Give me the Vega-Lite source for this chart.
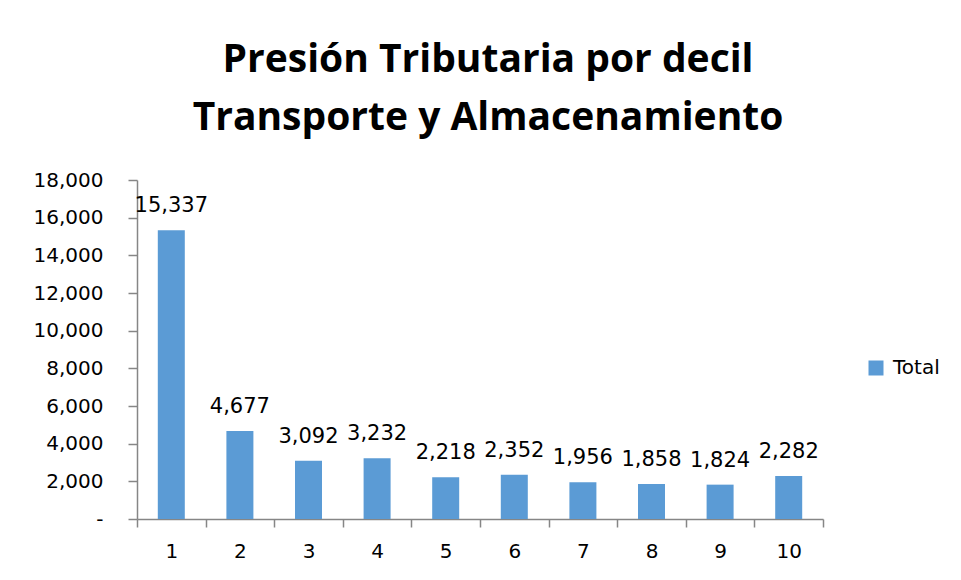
{
  "$schema": "https://vega.github.io/schema/vega-lite/v6.json",
  "width": 686,
  "height": 339,
  "autosize": {"type": "none"},
  "padding": {"left": 137, "top": 180, "right": 138, "bottom": 61},
  "background": "white",
  "title": {
    "text": ["Presión Tributaria por decil", "Transporte y Almacenamiento"],
    "font": "Open Sans",
    "fontSize": 39,
    "fontWeight": "bold",
    "color": "#000000",
    "lineHeight": 58,
    "anchor": "middle",
    "offset": 32,
    "dx": 8
  },
  "config": {
    "view": {"stroke": null},
    "axis": {
      "labelFont": "DejaVu Sans",
      "labelFontSize": 20,
      "labelColor": "#000000",
      "domainColor": "#868686",
      "tickColor": "#868686",
      "domainWidth": 1.5,
      "tickWidth": 1.5,
      "grid": false,
      "title": null
    },
    "legend": {
      "labelFont": "DejaVu Sans",
      "labelFontSize": 20,
      "labelColor": "#000000"
    }
  },
  "data": {
    "values": [
      {"decil": 1, "valor": 15337},
      {"decil": 2, "valor": 4677},
      {"decil": 3, "valor": 3092},
      {"decil": 4, "valor": 3232},
      {"decil": 5, "valor": 2218},
      {"decil": 6, "valor": 2352},
      {"decil": 7, "valor": 1956},
      {"decil": 8, "valor": 1858},
      {"decil": 9, "valor": 1824},
      {"decil": 10, "valor": 2282}
    ]
  },
  "encoding": {
    "x": {
      "field": "decil",
      "type": "quantitative",
      "scale": {"domain": [0.5, 10.5], "nice": false, "zero": false, "padding": 0},
      "axis": {
        "values": [0.5, 1.5, 2.5, 3.5, 4.5, 5.5, 6.5, 7.5, 8.5, 9.5, 10.5],
        "labelExpr": "datum.value < 10 ? format(datum.value + 0.5, 'd') : ''",
        "labelOffset": 34.3,
        "labelFlush": false,
        "labelBound": false,
        "labelOverlap": false,
        "tickSize": 8,
        "labelPadding": 14
      }
    },
    "y": {
      "field": "valor",
      "type": "quantitative",
      "scale": {"domain": [0, 18000], "nice": false, "padding": 0},
      "axis": {
        "values": [0, 2000, 4000, 6000, 8000, 10000, 12000, 14000, 16000, 18000],
        "labelExpr": "datum.value === 0 ? '-' : format(datum.value, ',')",
        "tickSize": 9,
        "labelPadding": 25,
        "labelOverlap": false
      }
    }
  },
  "layer": [
    {
      "mark": {"type": "bar", "size": 27},
      "encoding": {
        "color": {
          "datum": "Total",
          "type": "nominal",
          "scale": {"range": ["#5B9BD5"]},
          "legend": {
            "title": null,
            "orient": "none",
            "legendX": 729,
            "legendY": 178,
            "symbolType": "square",
            "symbolSize": 225,
            "symbolStrokeWidth": 0,
            "labelOffset": 7,
            "padding": 0
          }
        }
      }
    },
    {
      "mark": {
        "type": "text",
        "font": "DejaVu Sans",
        "fontSize": 21,
        "color": "#000000",
        "baseline": "alphabetic",
        "dy": -18
      },
      "encoding": {
        "text": {"field": "valor", "type": "quantitative", "format": ","}
      }
    }
  ]
}
